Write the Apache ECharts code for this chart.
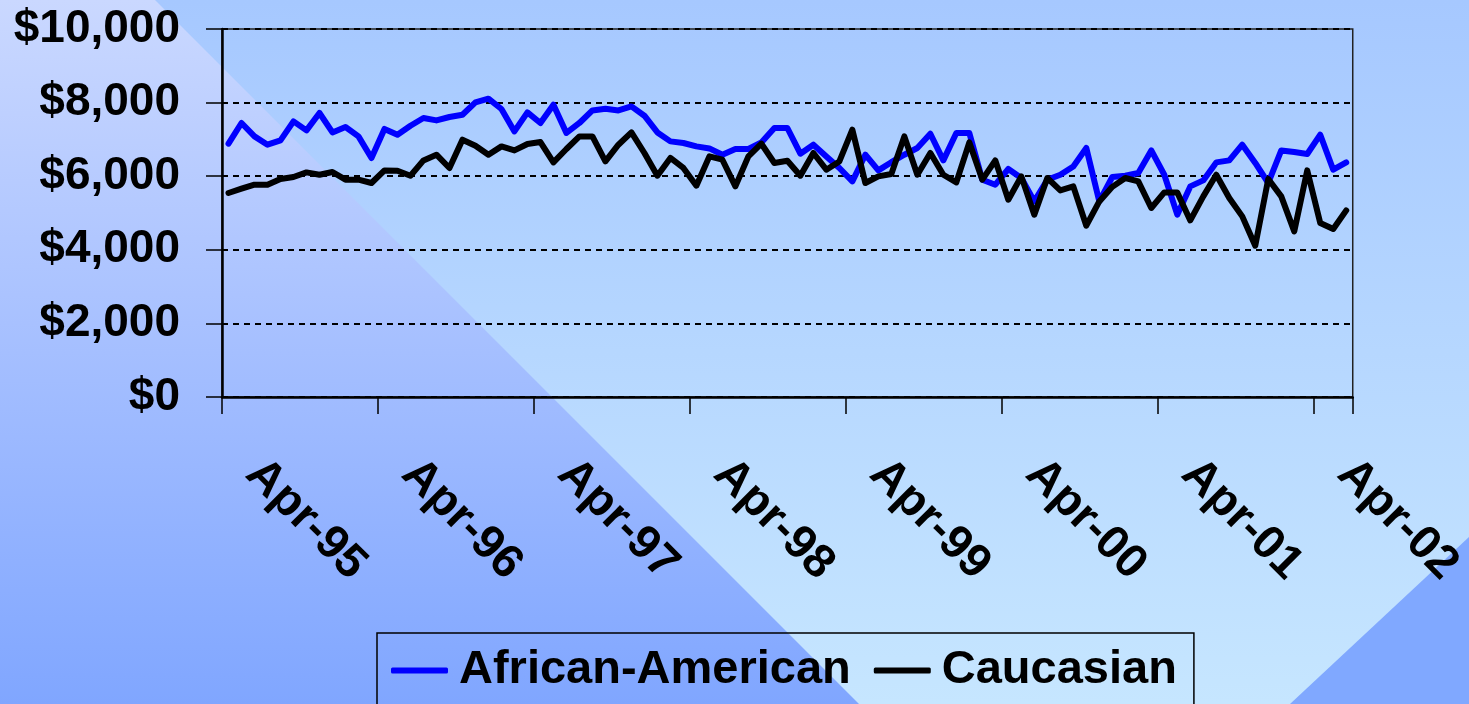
<!DOCTYPE html>
<html>
<head>
<meta charset="utf-8">
<script src="https://cdn.jsdelivr.net/npm/echarts@6/dist/echarts.min.js"></script>
<style>
html,body{margin:0;padding:0;}
#chart{width:1469px;height:704px;}
</style>
</head>
<body>
<div id="chart"></div>
<script>
// ---- data ----
const startYear = 1995, startMonth = 3, monthCount = 87; // Apr-95 .. Jun-02
const monthNames = ['Jan','Feb','Mar','Apr','May','Jun','Jul','Aug','Sep','Oct','Nov','Dec'];
const categories = [];
for (let i = 0; i < monthCount; i++) {
  const m = (startMonth + i) % 12;
  const y = startYear + Math.floor((startMonth + i) / 12);
  categories.push(monthNames[m] + '-' + String(y).slice(2));
}
const seriesNames = ['African-American', 'Caucasian'];
const africanAmerican = [
  6883,7446,7082,6856,6973,7490,7245,7717,7190,7337,7082,6495,
  7283,7128,7372,7581,7517,7609,7671,8005,8106,7826,7217,7734,
  7446,7943,7174,7446,7788,7834,7788,7897,7644,7190,6946,6902,
  6810,6755,6584,6739,6739,6918,7310,7310,6611,6856,6538,6223,
  5859,6584,6158,6380,6584,6766,7155,6430,7174,7174,5905,5769,
  6196,5951,5315,5905,6040,6266,6766,5315,5978,6014,6087,6701,
  6040,4954,5723,5886,6375,6430,6856,6359,5815,6701,6658,6603,
  7128,6177,6375
];
const caucasian = [
  5543,5660,5769,5769,5924,5978,6103,6040,6114,5905,5905,5815,
  6158,6150,6014,6430,6584,6223,6992,6829,6584,6810,6701,6875,
  6929,6375,6739,7082,7082,6402,6856,7190,6630,6014,6495,6223,
  5742,6538,6448,5723,6538,6883,6359,6421,6014,6630,6177,6402,
  7264,5815,5995,6060,7082,6040,6630,6040,5832,6918,5905,6430,
  5361,5995,4954,5951,5614,5723,4655,5315,5710,5951,5859,5136,
  5560,5560,4799,5451,6040,5408,4908,4111,5924,5451,4500,6158,
  4728,4565,5071
];
const yMin = 0, yMax = 10000, yStep = 2000;

// ---- chart ----
const FONT = "'Liberation Sans', Arial, sans-serif";
const chart = echarts.init(document.getElementById('chart'), null, {renderer: 'canvas'});
const option = {
  animation: false,
  backgroundColor: 'transparent',
  graphic: [
    {type: 'rect', z: -10, silent: true, shape: {x: 0, y: 0, width: 1469, height: 704},
     style: {fill: new echarts.graphic.LinearGradient(0, 0, 0, 1, [
       {offset: 0, color: '#a6c8ff'}, {offset: 1, color: '#c6e6ff'}])}},
    {type: 'polygon', z: -9, silent: true, shape: {points: [[0,0],[155,0],[859,704],[0,704]]},
     style: {fill: new echarts.graphic.LinearGradient(0, 0, 0, 1, [
       {offset: 0, color: '#cad8ff'}, {offset: 1, color: '#80a6ff'}])}},
    {type: 'polygon', z: -9, silent: true, shape: {points: [[1469,537],[1469,704],[1290,704]]},
     style: {fill: '#80a8ff'}}
  ],
  grid: {
    left: 222, top: 29, right: 116, bottom: 307,
    show: true, borderColor: '#222', borderWidth: 1.5, backgroundColor: 'transparent'
  },
  legend: {
    left: 377, top: 633,
    padding: [14, 17, 40, 14],
    borderColor: '#000', borderWidth: 1.5,
    itemWidth: 57, itemHeight: 6, itemGap: 23,
    icon: 'roundRect',
    textStyle: {fontFamily: FONT, fontWeight: 'bold', fontSize: 47, color: '#000', lineHeight: 46, padding: [0,0,0,6]},
    data: seriesNames
  },
  xAxis: {
    type: 'category',
    data: categories,
    boundaryGap: true,
    axisLine: {lineStyle: {color: '#000', width: 2.5}},
    axisTick: {show: true, interval: (idx) => idx % 12 === 0 && idx < monthCount, length: 17, lineStyle: {color: '#000', width: 1.5}},
    axisLabel: {
      interval: 11, rotate: -45, margin: 45, padding: [0,0,0,35],
      fontFamily: FONT, fontWeight: 'bold', fontSize: 47, color: '#000'
    },
    splitLine: {show: false}
  },
  yAxis: {
    type: 'value',
    min: yMin, max: yMax, interval: yStep,
    axisLine: {show: true, lineStyle: {color: '#000', width: 2.5}},
    axisTick: {show: true, length: 16, lineStyle: {color: '#000', width: 1.5}},
    axisLabel: {
      margin: 42, fontFamily: FONT, fontWeight: 'bold', fontSize: 46, color: '#000',
      formatter: v => '$' + v.toLocaleString('en-US')
    },
    splitLine: {show: true, lineStyle: {color: '#000', width: 2, type: [6, 5]}}
  },
  series: [
    {name: seriesNames[0], type: 'line', data: africanAmerican, symbol: 'none',
     color: '#0000ff',
     lineStyle: {color: '#0000ff', width: 6, cap: 'round', join: 'round'}},
    {name: seriesNames[1], type: 'line', data: caucasian, symbol: 'none',
     color: '#000000',
     lineStyle: {color: '#000000', width: 6, cap: 'round', join: 'round'}}
  ]
};
chart.setOption(option);
</script>
</body>
</html>
